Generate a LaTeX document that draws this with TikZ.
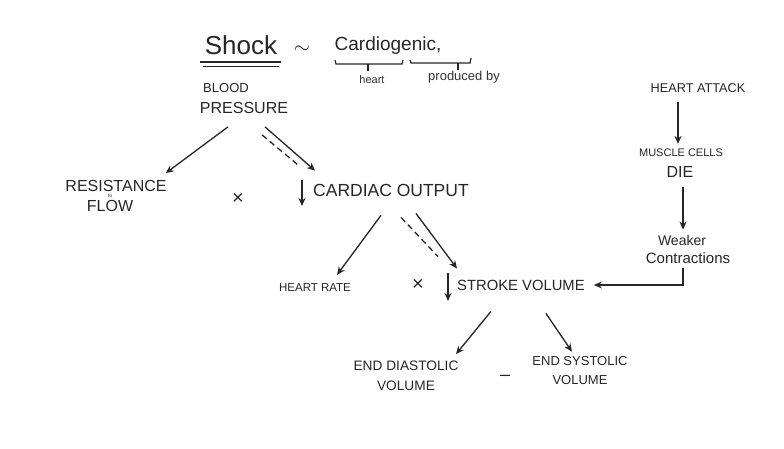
\documentclass[tikz,border=0pt]{standalone}
\usepackage{fontspec}
\setmainfont{Liberation Sans}
\usetikzlibrary{arrows.meta}
\newcommand{\fs}[1]{\fontsize{#1}{#1}\selectfont}
\begin{document}
\begin{tikzpicture}[x=1pt,y=-1pt,
  lbl/.style={inner sep=1pt, text=black!85},
  small/.style={inner sep=1pt, text=black!80},
  arr/.style={-{Stealth[length=8pt,width=7pt]}, line width=1.3pt, black!85},
  dsh/.style={line width=1.3pt, black!85, dash pattern=on 6pt off 4pt},
  ln/.style={line width=1.2pt, black!85}]
\useasboundingbox[fill=white] (0,0) rectangle (784,448);
% title
\node[lbl, font=\fs{26}] (shock) at (241,45) {Shock};
\node[lbl, font=\fs{21}] (tilde) at (302,50) {$\sim$};
\node[lbl, font=\fs{19}] (cardio) at (388,46) {Cardiogenic,};
\draw[ln, line width=1.7pt] (200,62) -- (281,62);
\draw[ln, line width=1pt] (203,66) -- (279,66);
\draw[ln] (335,60) -- (336,64) -- (402,64) -- (403,60);
\draw[ln] (368,64) -- (368,71);
\draw[ln] (410,60) -- (411,63) -- (470,63) -- (471,58);
\draw[ln] (458,63) -- (458,70);
\node[small, font=\fs{11}] (heart) at (372,80) {heart};
\node[small, font=\fs{13}] (prod) at (464,77) {produced by};
% left part
\node[lbl, font=\fs{13}] (bpa) at (226,88) {BLOOD};
\node[lbl, font=\fs{16}] (bp) at (244,108) {PRESSURE};
\node[lbl, font=\fs{16}] (res) at (116,186) {RESISTANCE};
\node[small, font=\fs{5}, inner sep=0pt] (to) at (110,196) {to};
\node[lbl, font=\fs{16}] (flow) at (110,206) {FLOW};
\node[lbl, font=\fs{20}] (x1) at (238,199) {×};
\node[lbl, font=\fs{17.5}, anchor=west] (co) at (312,190) {CARDIAC OUTPUT};
\draw[arr] ([shift={(-16,12)}]bp.south) -- ([shift={(-2,-6)}]res.north east);
\draw[arr] ([shift={(21,12)}]bp.south) -- ([shift={(3,-12)}]co.north west);
\draw[dsh] ([shift={(18,20)}]bp.south) -- ([shift={(-12,-16)}]co.north west);
\draw[arr] ([shift={(-10,-10)}]co.west) -- ([shift={(-10,16)}]co.west);
% middle row
\node[lbl, font=\fs{11.5}] (hr) at (315,288) {HEART RATE};
\node[lbl, font=\fs{20}] (x2) at (418,285) {×};
\node[lbl, font=\fs{14.8}, anchor=west] (sv) at (456,285) {STROKE VOLUME};
\draw[arr] ([shift={(-10,18)}]co.south) -- ([shift={(22,-8)}]hr.north);
\draw[dsh] ([shift={(10,20)}]co.south) -- ([shift={(-18,-22)}]sv.north west);
\draw[arr] ([shift={(25,16)}]co.south) -- ([shift={(1,-10)}]sv.north west);
\draw[arr] ([shift={(-8,-12)}]sv.west) -- ([shift={(-8,16)}]sv.west);
% right column
\node[lbl, font=\fs{12.7}] (ha) at (698,88) {HEART ATTACK};
\node[lbl, font=\fs{11}] (mc) at (681,153) {MUSCLE CELLS};
\node[lbl, font=\fs{16}] (die) at (680,172) {DIE};
\node[lbl, font=\fs{14}] (wk) at (682,240) {Weaker};
\node[lbl, font=\fs{15}] (wc) at (688,258) {Contractions};
\draw[arr] ([shift={(-20,8)}]ha.south) -- ([shift={(-3,-4)}]mc.north);
\draw[arr] ([shift={(3,8)}]die.south) -- ([shift={(1,-4)}]wk.north);
\draw[arr] ([shift={(-5,3)}]wc.south) |- ([xshift=8pt]sv.east);
% bottom
\node[lbl, font=\fs{13.7}, align=center] (edv) at (406,376) {END DIASTOLIC\\[6pt]VOLUME};
\node[lbl, font=\fs{18}] (minus) at (505,378) {–};
\node[lbl, font=\fs{13}, align=center] (esv) at (580,371) {END SYSTOLIC\\[6pt]VOLUME};
\draw[arr] ([shift={(-30,20)}]sv.south) -- ([shift={(50,-6)}]edv.north);
\draw[arr] ([shift={(25,22)}]sv.south) -- ([shift={(-8,-4)}]esv.north);
\end{tikzpicture}
\end{document}
